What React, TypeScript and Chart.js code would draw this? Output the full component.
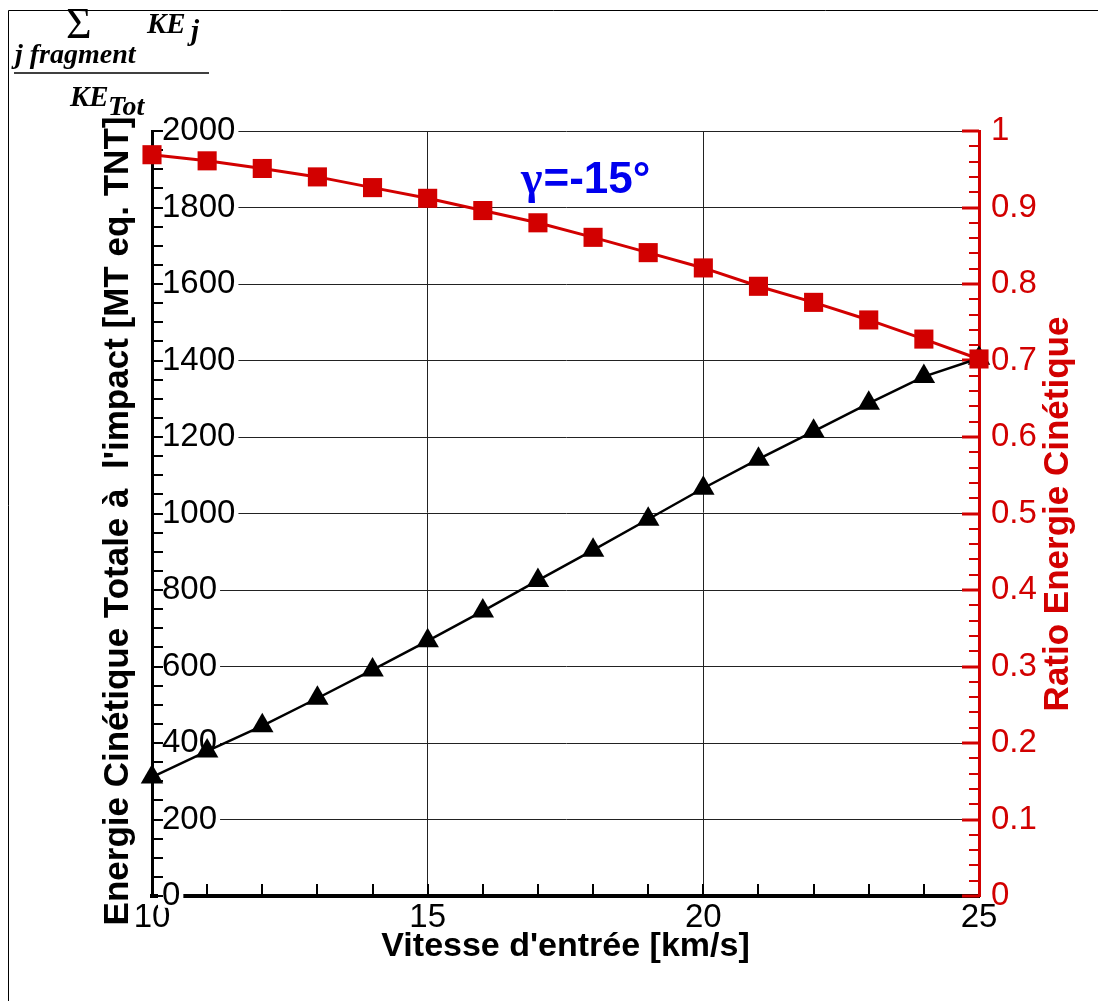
import { useEffect, useRef } from 'react';
import { Chart, registerables } from 'chart.js';

Chart.register(...registerables);

// ---- data ----
const speeds = [10, 11, 12, 13, 14, 15, 16, 17, 18, 19, 20, 21, 22, 23, 24, 25];
const energyMT = [311, 379, 445, 517, 591, 667, 745, 825, 904, 985, 1066, 1142, 1215, 1288, 1358, 1406];
const ratioKE = [0.969, 0.961, 0.951, 0.94, 0.926, 0.912, 0.896, 0.88, 0.861, 0.841, 0.821, 0.797, 0.776, 0.753, 0.728, 0.702];

const xTitle = "Vitesse d'entrée [km/s]";
const yTitle = "Energie Cinétique Totale à  l'impact [MT eq. TNT]";
const y2Title = 'Ratio Energie Cinétique';
const annotation = ['γ', '=-15°'];

const X_MIN = 10, X_MAX = 25, X_STEP = 5, X_MINOR = 1;
const Y_MIN = 0, Y_MAX = 2000, Y_STEP = 200, Y_MINOR = 50;
const Y2_MIN = 0, Y2_MAX = 1, Y2_STEP = 0.1, Y2_MINOR = 0.02;

const RED = '#d20000';
const BLUE = '#0000ee';
const SANS = '"Liberation Sans", Arial, Helvetica, sans-serif';
const SERIF = '"Liberation Serif", "Times New Roman", serif';

const decorations = {
  id: 'decorations',
  beforeDatasetsDraw(chart: any) {
    const { ctx, chartArea: a, scales } = chart;
    const sx = scales.x, sy = scales.y, sy2 = scales.y2;
    ctx.save();
    ctx.lineCap = 'butt';
    // left axis ticks (inward)
    ctx.strokeStyle = '#000';
    ctx.lineWidth = 2;
    const ny = Math.round((Y_MAX - Y_MIN) / Y_MINOR);
    for (let i = 0; i <= ny; i++) {
      const p = Math.round(sy.getPixelForValue(Y_MIN + i * Y_MINOR));
      ctx.beginPath();
      ctx.moveTo(a.left, p);
      ctx.lineTo(a.left + 11, p);
      ctx.stroke();
    }
    // bottom axis ticks (inward)
    const nx = Math.round((X_MAX - X_MIN) / X_MINOR);
    for (let i = 1; i < nx; i++) {
      const p = Math.round(sx.getPixelForValue(X_MIN + i * X_MINOR));
      ctx.beginPath();
      ctx.moveTo(p, a.bottom);
      ctx.lineTo(p, a.bottom - 12);
      ctx.stroke();
    }
    // right axis ticks (inward)
    ctx.strokeStyle = RED;
    const ny2 = Math.round((Y2_MAX - Y2_MIN) / Y2_MINOR);
    const ratio = Math.round(Y2_STEP / Y2_MINOR);
    for (let i = 0; i <= ny2; i++) {
      const p = Math.round(sy2.getPixelForValue(Y2_MIN + i * Y2_MINOR));
      const major = i % ratio === 0;
      ctx.lineWidth = major ? 3 : 2;
      ctx.beginPath();
      ctx.moveTo(a.right, p);
      ctx.lineTo(a.right - (major ? 17 : 10), p);
      ctx.stroke();
    }
    ctx.restore();
  },
  afterDraw(chart: any) {
    const { ctx } = chart;
    ctx.save();
    // outer frame (left and top edges visible)
    ctx.strokeStyle = '#000';
    ctx.lineWidth = 1;
    ctx.beginPath();
    ctx.moveTo(8.5, 1001);
    ctx.lineTo(8.5, 10.5);
    ctx.lineTo(1098, 10.5);
    ctx.stroke();

    // vertical axis titles
    ctx.textAlign = 'center';
    ctx.textBaseline = 'middle';
    ctx.font = `bold 35px ${SANS}`;
    ctx.fillStyle = '#000';
    ctx.save();
    ctx.translate(118, 521);
    ctx.rotate(-Math.PI / 2);
    ctx.fillText(yTitle, 0, 0);
    ctx.restore();

    ctx.fillStyle = RED;
    ctx.save();
    ctx.translate(1058, 514);
    ctx.rotate(-Math.PI / 2);
    ctx.fillText(y2Title, 0, 0);
    ctx.restore();

    // gamma annotation
    ctx.textAlign = 'left';
    ctx.textBaseline = 'alphabetic';
    ctx.fillStyle = BLUE;
    ctx.font = `bold 46px ${SERIF}`;
    ctx.fillText(annotation[0], 521, 193);
    const gw = ctx.measureText(annotation[0]).width;
    ctx.font = `bold 44px ${SANS}`;
    ctx.fillText(annotation[1], 521 + gw + 1, 193);

    // fraction label
    ctx.fillStyle = '#000';
    ctx.font = `44px ${SERIF}`;
    ctx.fillText('Σ', 66, 38);
    ctx.font = `italic bold 29px ${SERIF}`;
    ctx.fillText('KE', 147, 33);
    ctx.fillText('j', 191, 40);
    ctx.font = `italic bold 28px ${SERIF}`;
    ctx.fillText('j fragment', 15, 63);
    ctx.lineWidth = 1.5;
    ctx.beginPath();
    ctx.moveTo(14, 73);
    ctx.lineTo(209, 73);
    ctx.stroke();
    ctx.font = `italic bold 29px ${SERIF}`;
    ctx.fillText('KE', 70, 106);
    ctx.font = `italic bold 28px ${SERIF}`;
    ctx.fillText('Tot', 108, 115);
    ctx.restore();
  },
};

export default function App() {
  const ref = useRef<HTMLCanvasElement | null>(null);

  useEffect(() => {
    document.body.style.margin = '0';
    const canvas = ref.current;
    if (!canvas) return;
    const chart = new Chart(canvas, {
      type: 'line',
      data: {
        datasets: [
          {
            label: 'ratio',
            data: speeds.map((s, i) => ({ x: s, y: ratioKE[i] })),
            yAxisID: 'y2',
            borderColor: RED,
            borderWidth: 3,
            pointStyle: 'rect',
            pointRadius: 13.5,
            pointBackgroundColor: RED,
            pointBorderWidth: 0,
            tension: 0,
            clip: false as any,
          },
          {
            label: 'energy',
            data: speeds.map((s, i) => ({ x: s, y: energyMT[i] })),
            yAxisID: 'y',
            borderColor: '#000',
            borderWidth: 2.5,
            pointStyle: 'triangle',
            pointRadius: 13,
            pointBackgroundColor: '#000',
            pointBorderWidth: 0,
            tension: 0,
            clip: false as any,
          },
        ],
      },
      options: {
        responsive: false,
        animation: false,
        events: [],
        layout: { padding: { top: 131, left: 0, right: 0, bottom: 0 } },
        plugins: { legend: { display: false }, tooltip: { enabled: false } },
        scales: {
          x: {
            type: 'linear',
            position: 'bottom',
            min: X_MIN,
            max: X_MAX,
            z: -1,
            ticks: {
              stepSize: X_STEP,
              color: '#000',
              font: { family: SANS, size: 33 },
              padding: 2,
              maxRotation: 0,
              autoSkip: false,
              callback: (v: any) => String(v),
            },
            grid: { color: '#222', lineWidth: 1, drawTicks: false },
            border: { color: '#000', width: 4 },
            title: {
              display: true,
              text: xTitle,
              color: '#000',
              font: { family: SANS, size: 34, weight: 'bold' },
              padding: { top: 0, bottom: 34 },
            },
            afterFit: (s: any) => {
              s.height = 105;
            },
          },
          y: {
            type: 'linear',
            position: 'left',
            min: Y_MIN,
            max: Y_MAX,
            ticks: {
              stepSize: Y_STEP,
              mirror: true,
              padding: 10,
              color: '#000',
              font: { family: SANS, size: 33 },
              showLabelBackdrop: true,
              backdropColor: '#fff',
              backdropPadding: { left: 4, right: 3, top: -8, bottom: -8 },
              callback: (v: any) => String(v),
            } as any,
            grid: { color: '#222', lineWidth: 1, drawTicks: false },
            border: { color: '#000', width: 3 },
            afterFit: (s: any) => {
              s.width = 152;
            },
          },
          y2: {
            type: 'linear',
            position: 'right',
            min: Y2_MIN,
            max: Y2_MAX,
            ticks: {
              stepSize: Y2_STEP,
              padding: 12,
              color: RED,
              font: { family: SANS, size: 33 },
              callback: (v: any) => String(Math.round(Number(v) * 10) / 10),
            },
            grid: { drawOnChartArea: false, drawTicks: false },
            border: { color: RED, width: 3 },
            afterFit: (s: any) => {
              s.width = 119;
            },
          },
        },
      },
      plugins: [decorations],
    });
    return () => chart.destroy();
  }, []);

  return (
    <canvas
      ref={ref}
      width={1098}
      height={1001}
      style={{ display: 'block', width: 1098, height: 1001 }}
    />
  );
}
